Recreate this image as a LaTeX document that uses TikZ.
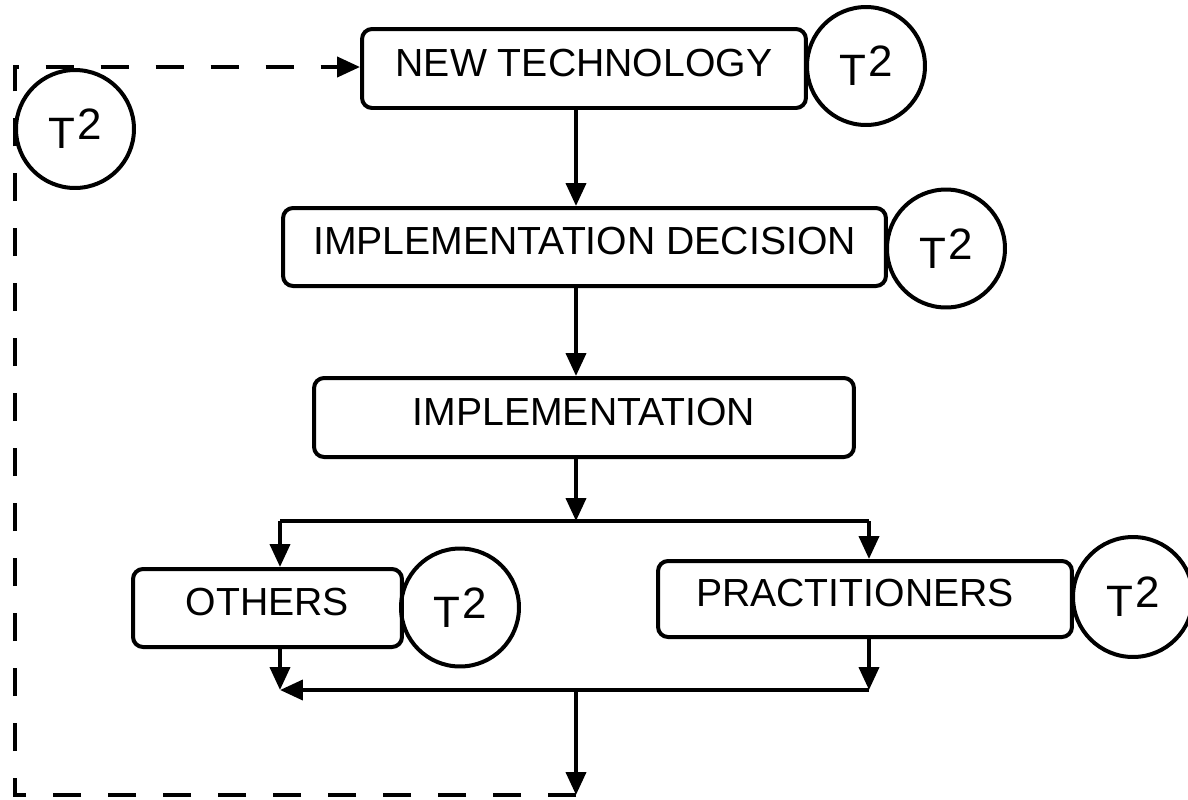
\documentclass[tikz,border=0pt]{standalone}
\usepackage{fontspec}
\setmainfont{Liberation Sans}
\usetikzlibrary{arrows.meta}
\begin{document}
\begin{tikzpicture}[x=0.02cm,y=-0.02cm,
  every path/.style={line width=0.08cm},
  box/.style={draw, rounded corners=0.2cm, inner sep=0pt, text depth=0.24cm, font=\fontsize{22.3}{26}\selectfont},
  ring/.style={draw, circle, inner sep=0pt, minimum size=2.36cm, font=\fontsize{25}{28}\selectfont},
  arr/.style={-{Triangle[length=0.46cm,width=0.4cm]}},
  loop/.style={dash pattern=on 0.56cm off 0.54cm}
]
\useasboundingbox (0,0) rectangle (1188,799);
% boxes
\node[box, minimum width=8.88cm, minimum height=1.58cm] (nt) at (584,68.5) {NEW TECHNOLOGY};
\node[box, minimum width=12.06cm, minimum height=1.56cm] (dec) at (584.5,247) {IMPLEMENTATION DECISION};
\node[box, minimum width=10.8cm, minimum height=1.58cm] (impl) at (584,417.5) {IMPLEMENTATION};
\node[box, minimum width=5.38cm, minimum height=1.56cm] (oth) at (267.5,608) {OTHERS};
\node[box, minimum width=8.28cm, minimum height=1.52cm] (pr) at (865,599) {PRACTITIONERS\kern0.4cm};
% circles
\newcommand{\Tsq}{T\kern1pt\raisebox{5pt}{2}}
\node[ring] (c0) at (75,129) {\Tsq};
\node[ring] (c1) at (866,66) {\Tsq};
\node[ring] (c2) at (946,248.5) {\Tsq};
\node[ring] (c3) at (460,607.5) {\Tsq};
\node[ring, minimum size=2.4cm] (c4) at (1133,597) {\Tsq};
% coordinates
\coordinate (x1) at (576,0);
\coordinate (b1) at (576,521);
\coordinate (lL) at (280,521);
\coordinate (lR) at (869,521);
\coordinate (m1) at (576,690);
\coordinate (mL) at (280,690);
\coordinate (mR) at (869,690);
\coordinate (d1) at (576,795);
\coordinate (dL) at (15,795);
\coordinate (dT) at (15,67);
% connectors
\draw[arr] (nt.south -| x1) -- (dec.north -| x1);
\draw[arr] (dec.south -| x1) -- (impl.north -| x1);
\draw[arr] (impl.south -| x1) -- (b1);
\draw (lL) -- (lR);
\draw[arr] (lL) -- (oth.north -| lL);
\draw[arr] (lR) -- (pr.north -| lR);
\draw[arr] (oth.south -| mL) -- (mL);
\draw[arr] (pr.south -| mR) -- (mR);
\draw[arr] (mR) -- (mL);
\draw[arr] (m1) -- (d1);
\draw[loop, arr] (d1) -- (dL) -- (dT) -- (nt.west |- dT);
\end{tikzpicture}
\end{document}
